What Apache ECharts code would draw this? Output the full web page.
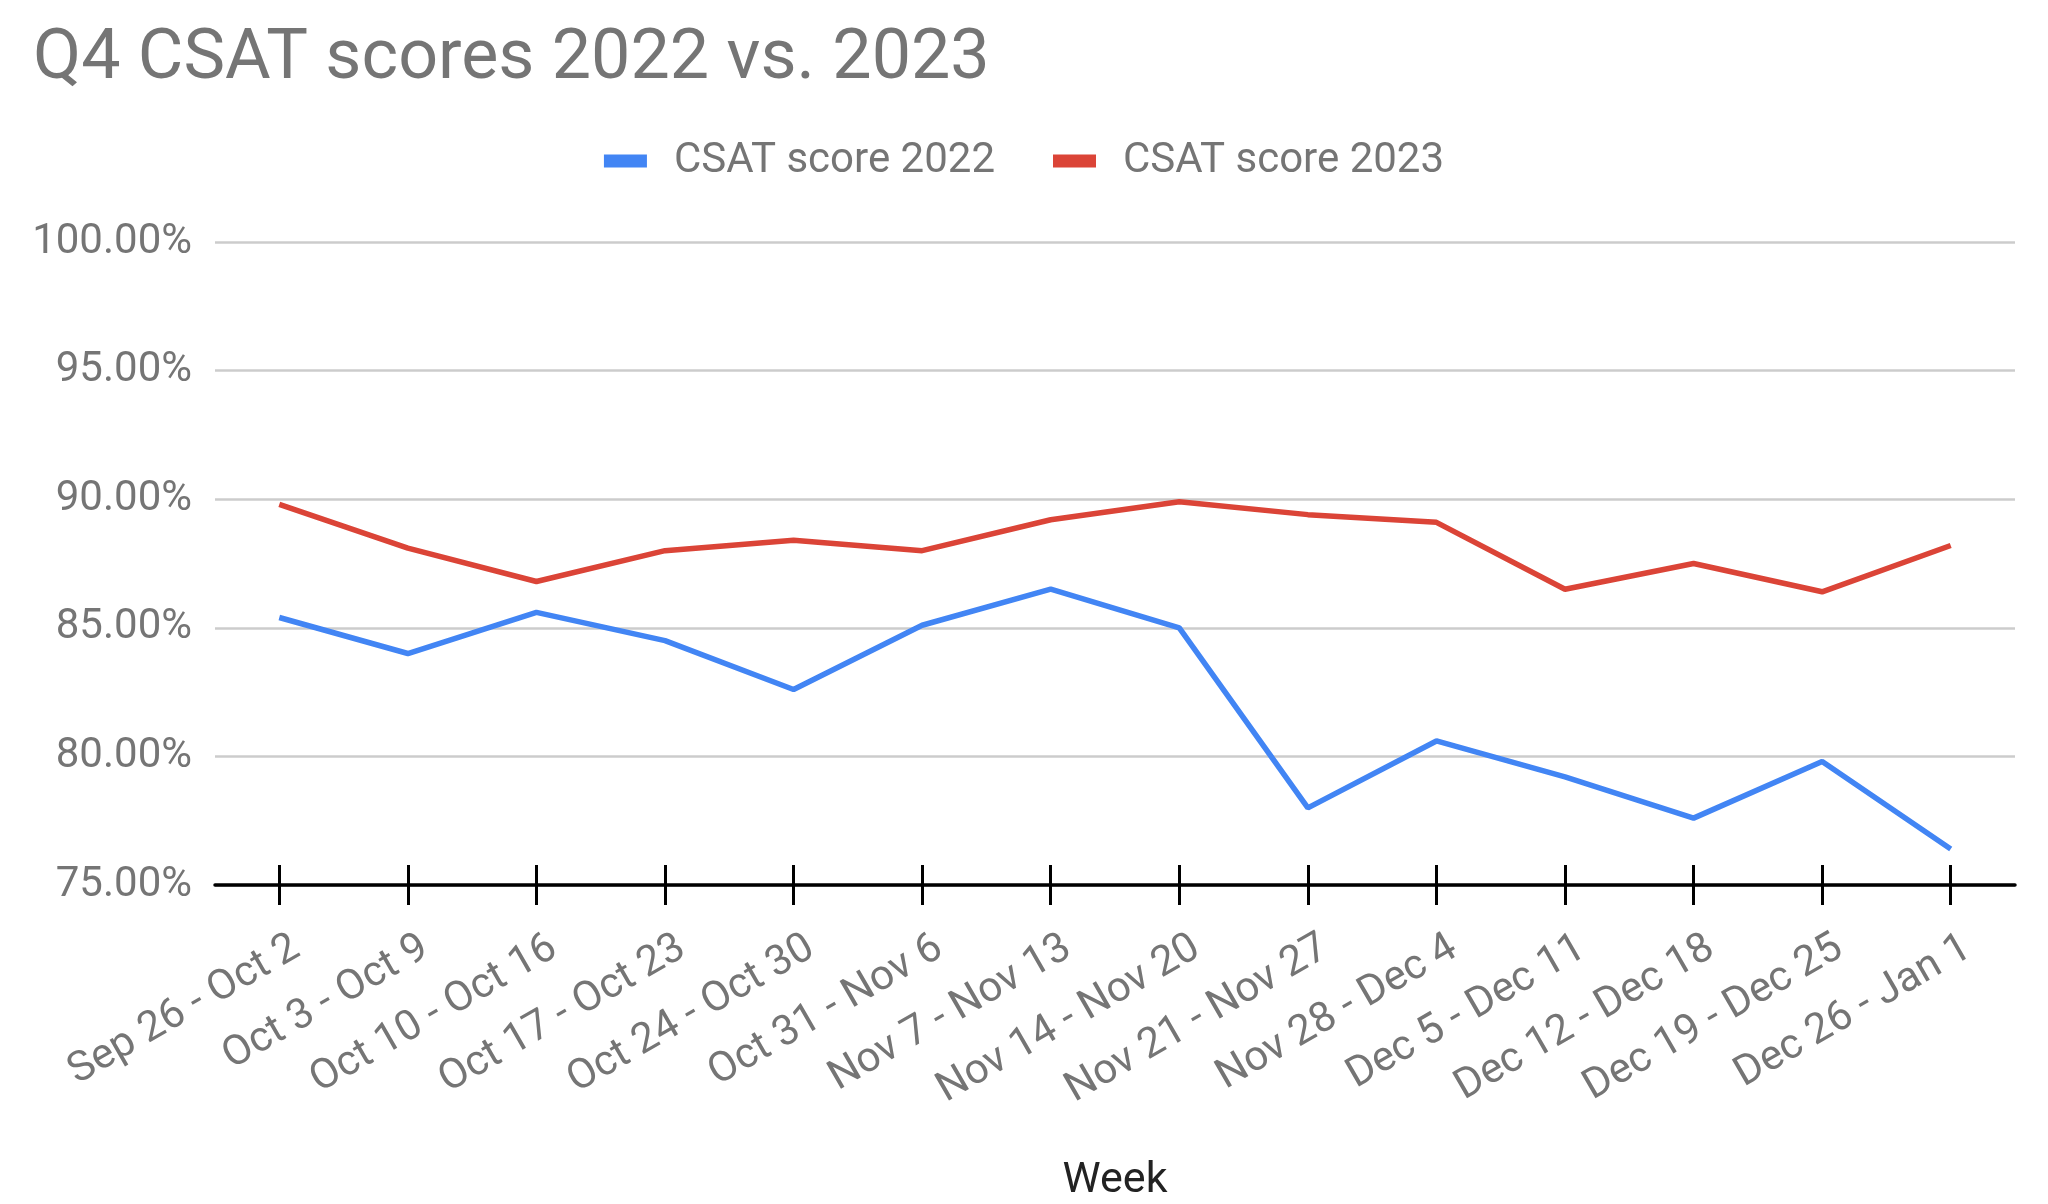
<!DOCTYPE html>
<html>
<head>
<meta charset="utf-8">
<title>Q4 CSAT scores 2022 vs. 2023</title>
<script src="https://cdn.jsdelivr.net/npm/echarts@6/dist/echarts.min.js"></script>
<style>
  html, body { margin: 0; padding: 0; background: #fff; }
  #chart { width: 2048px; height: 1204px; }
</style>
</head>
<body>
<div id="chart"></div>
<script>
// weeks on the x axis
const weeks = ['Sep 26 - Oct 2', 'Oct 3 - Oct 9', 'Oct 10 - Oct 16', 'Oct 17 - Oct 23',
  'Oct 24 - Oct 30', 'Oct 31 - Nov 6', 'Nov 7 - Nov 13', 'Nov 14 - Nov 20',
  'Nov 21 - Nov 27', 'Nov 28 - Dec 4', 'Dec 5 - Dec 11', 'Dec 12 - Dec 18',
  'Dec 19 - Dec 25', 'Dec 26 - Jan 1']
// CSAT in percent
const csat2022 = [85.4, 84.0, 85.6, 84.5, 82.6, 85.1, 86.5, 85.0, 78.0, 80.6, 79.2, 77.6, 79.8, 76.4]
const csat2023 = [89.8, 88.1, 86.8, 88.0, 88.4, 88.0, 89.2, 89.9, 89.4, 89.1, 86.5, 87.5, 86.4, 88.2]
// y axis range
const yMin = 75
const yMax = 100
const yStep = 5

const font = 'Roboto'
const grey = '#757575'

let chart = echarts.init(document.getElementById('chart'))
let option = {
    animation: false,
    textStyle: { fontFamily: font },
    title: {
        text: 'Q4 CSAT scores 2022 vs. 2023',
        left: 28,
        top: 20,
        textStyle: { fontFamily: font, fontSize: 70, fontWeight: 'normal', color: grey }
    },
    legend: {
        left: 'center',
        top: 135,
        icon: 'rect',
        itemWidth: 43,
        itemHeight: 13,
        itemGap: 58,
        textStyle: { fontFamily: font, fontSize: 42, color: grey, padding: [0, 0, 0, 22] },
        data: ['CSAT score 2022', 'CSAT score 2023']
    },
    grid: { left: 215, right: 33, top: 242, bottom: 319, outerBoundsMode: 'none' },
    xAxis: [{
        type: 'category',
        data: weeks,
        boundaryGap: true,
        name: 'Week',
        nameLocation: 'middle',
        nameGap: 275,
        nameMoveOverlap: false,
        nameTextStyle: { fontFamily: font, fontSize: 43, color: '#222' },
        axisLine: { show: true, lineStyle: { color: '#000', width: 3.5 } },
        axisTick: { show: true, interval: 0, alignWithLabel: true, length: 20, lineStyle: { color: '#000', width: 3 } },
        axisLabel: {
            rotate: 30,
            margin: 30,
            interval: 0,
            // empty first line pushes the rotated label away from the axis
            formatter: v => '{gap| }\n{lbl|' + v + '}',
            rich: {
                gap: { height: 70, fontSize: 10 },
                lbl: { fontFamily: font, fontSize: 42, color: grey }
            }
        }
    }, {
        // second copy only for the ticks that poke up above the axis
        type: 'category',
        data: weeks,
        position: 'bottom',
        boundaryGap: true,
        axisLine: { show: false },
        axisTick: { show: true, interval: 0, inside: true, alignWithLabel: true, length: 20, lineStyle: { color: '#000', width: 3 } },
        axisLabel: { show: false }
    }],
    yAxis: {
        type: 'value',
        min: yMin,
        max: yMax,
        interval: yStep,
        axisLine: { show: false },
        axisTick: { show: false },
        splitLine: { lineStyle: { color: '#ccc', width: 2.5 } },
        axisLabel: {
            margin: 23,
            fontFamily: font,
            fontSize: 42,
            color: grey,
            formatter: v => v.toFixed(2) + '%'
        }
    },
    series: [{
        name: 'CSAT score 2022',
        type: 'line',
        data: csat2022,
        symbol: 'none',
        color: '#4285f4',
        lineStyle: { color: '#4285f4', width: 5.5 }
    }, {
        name: 'CSAT score 2023',
        type: 'line',
        data: csat2023,
        symbol: 'none',
        color: '#db4437',
        lineStyle: { color: '#db4437', width: 5.5 }
    }]
}
chart.setOption(option)
</script>
</body>
</html>
